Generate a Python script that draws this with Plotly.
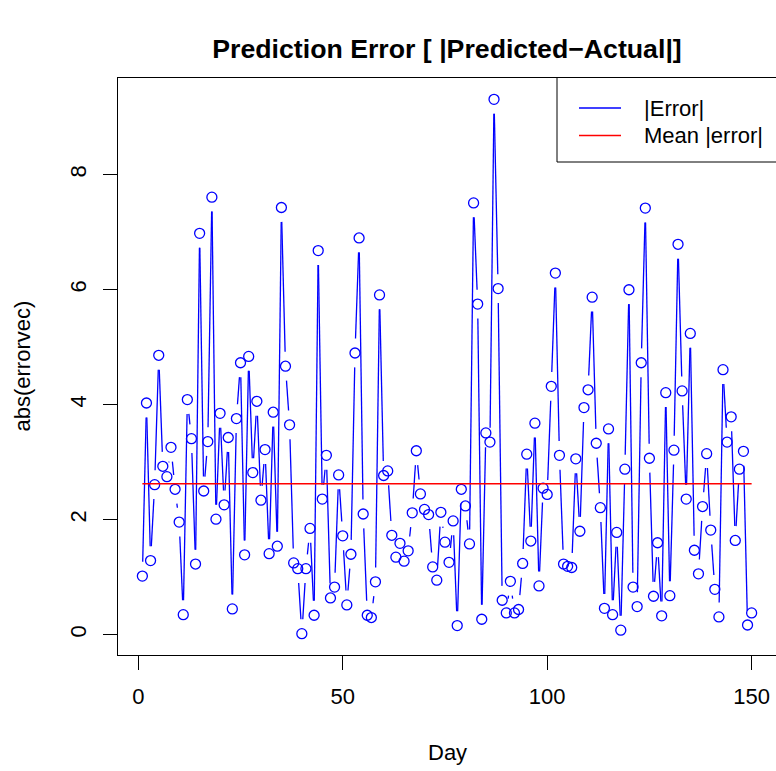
import math
import numpy as np
import plotly.graph_objects as go

# ---------------- data ----------------
days = list(range(1, 151))
abs_error = [
    1.02, 4.03, 1.29, 2.61, 4.86, 2.93, 2.75, 3.26, 2.53, 1.96,
    0.35, 4.09, 3.41, 1.23, 6.98, 2.50, 3.36, 7.61, 2.01, 3.85,
    2.26, 3.43, 0.45, 3.76, 4.73, 1.39, 4.84, 2.82, 4.06, 2.34,
    3.22, 1.41, 3.87, 1.54, 7.43, 4.67, 3.65, 1.25, 1.15, 0.02,
    1.15, 1.85, 0.34, 6.68, 2.36, 3.12, 0.64, 0.83, 2.78, 1.72,
    0.52, 1.40, 4.90, 6.90, 2.10, 0.34, 0.30, 0.92, 5.91, 2.77,
    2.85, 1.73, 1.35, 1.59, 1.28, 1.46, 2.12, 3.20, 2.45, 2.18,
    2.09, 1.18, 0.95, 2.13, 1.61, 1.26, 1.98, 0.16, 2.53, 2.24,
    1.58, 7.51, 5.75, 0.27, 3.51, 3.35, 9.31, 6.02, 0.60, 0.38,
    0.93, 0.38, 0.44, 1.24, 3.14, 1.63, 3.68, 0.85, 2.55, 2.44,
    4.32, 6.29, 3.12, 1.23, 1.19, 1.17, 3.06, 1.80, 3.95, 4.26,
    5.87, 3.33, 2.21, 0.46, 3.58, 0.35, 1.78, 0.08, 2.88, 6.00,
    0.83, 0.49, 4.73, 7.42, 3.07, 0.67, 1.60, 0.33, 4.21, 0.68,
    3.21, 6.79, 4.24, 2.36, 5.24, 1.47, 1.06, 2.23, 3.15, 1.82,
    0.79, 0.31, 4.61, 3.35, 3.79, 1.64, 2.88, 3.19, 0.17, 0.38,
]
mean_error = float(np.mean(abs_error))

x_ticks = [0, 50, 100, 150]
y_ticks = [0, 2, 4, 6, 8]

title_text = "Prediction Error [ |Predicted\u2212Actual|]"
x_title = "Day"
y_title = "abs(errorvec)"
legend_labels = ["|Error|", "Mean |error|"]

# ---------------- layout constants ----------------
W, H = 776, 771
ML, MR, MT = 118, 0, 78
PH = 577
MB = H - MT - PH
PW = W - ML - MR
FONT = "Liberation Sans, Arial, Helvetica, sans-serif"
BLUE, RED = "#0000FF", "#FF0000"


def r_range(v):
    lo, hi = min(v), max(v)
    e = 0.04 * (hi - lo)
    return [lo - e, hi + e]


xr = r_range(days)
yr = r_range(abs_error)

# type="b" style: line segments with gaps around each point
kx = PW / (xr[1] - xr[0])
ky = PH / (yr[1] - yr[0])
GAP = 14.4
seg_x, seg_y = [], []
for i in range(1, len(days)):
    x0, y0, x1, y1 = days[i - 1], abs_error[i - 1], days[i], abs_error[i]
    L = math.hypot((x1 - x0) * kx, (y1 - y0) * ky)
    f = GAP / L
    if f < 0.5:
        seg_x += [x0 + f * (x1 - x0), x1 - f * (x1 - x0), None]
        seg_y += [y0 + f * (y1 - y0), y1 - f * (y1 - y0), None]

fig = go.Figure()
fig.add_trace(go.Scatter(x=seg_x, y=seg_y, mode="lines",
                         line=dict(color=BLUE, width=1.3),
                         name=legend_labels[0], showlegend=False,
                         hoverinfo="skip"))
fig.add_trace(go.Scatter(x=days, y=abs_error, mode="markers",
                         marker=dict(symbol="circle-open", size=10, color=BLUE,
                                     line=dict(color=BLUE, width=1.3)),
                         showlegend=False))
fig.add_trace(go.Scatter(x=days, y=[mean_error] * len(days), mode="lines",
                         line=dict(color=RED, width=1.3),
                         name=legend_labels[1], showlegend=False))

axis_common = dict(showline=True, linecolor="black", linewidth=1,
                   ticks="outside", ticklen=14, tickwidth=1, tickcolor="black",
                   showgrid=False, zeroline=False, ticklabeloverflow="allow",
                   tickfont=dict(family=FONT, size=22, color="black"))

fig.update_xaxes(range=xr, tickvals=x_ticks, ticktext=[str(t) for t in x_ticks],
                 ticklabelstandoff=8, mirror=True, **axis_common)
fig.update_yaxes(range=yr, tickvals=y_ticks, ticktext=[str(t) for t in y_ticks],
                 tickangle=-90, ticklabelstandoff=8, mirror=False, **axis_common)


def fx(px):   # window pixel x -> x-domain fraction
    return (px - ML) / PW


def fy(py):   # window pixel y -> y-domain fraction
    return 1 - (py - MT) / PH


# legend box (top-right, R style; its right side lies on the window edge)
fig.add_shape(type="rect", xref="x domain", yref="y domain",
              x0=fx(557), x1=1.0, y0=fy(162), y1=1.0,
              line=dict(width=0), fillcolor="white", layer="above")
fig.add_shape(type="line", xref="x domain", yref="y domain",
              x0=fx(557), x1=fx(557), y0=fy(162), y1=1.0,
              line=dict(color="black", width=1), layer="above")
fig.add_shape(type="line", xref="x domain", yref="y domain",
              x0=fx(557), x1=1.0, y0=fy(162), y1=fy(162),
              line=dict(color="black", width=1), layer="above")
for j, (lab, col) in enumerate(zip(legend_labels, [BLUE, RED])):
    yy = fy(108 + 27.5 * j)
    fig.add_shape(type="line", xref="x domain", yref="y domain",
                  x0=fx(579), x1=fx(621), y0=yy, y1=yy,
                  line=dict(color=col, width=1.3), layer="above")
    fig.add_annotation(xref="x domain", yref="y domain", x=fx(642), y=yy,
                       text=lab, showarrow=False, xanchor="left", yanchor="middle",
                       font=dict(family=FONT, size=22, color="black"))

# axis titles
fig.add_annotation(xref="paper", yref="paper", x=0.5, y=0, yshift=-97,
                   text=x_title, showarrow=False, xanchor="center", yanchor="middle",
                   font=dict(family=FONT, size=22, color="black"))
fig.add_annotation(xref="paper", yref="paper", x=0, y=0.5, xshift=-96,
                   text=y_title, showarrow=False, textangle=-90,
                   xanchor="center", yanchor="middle",
                   font=dict(family=FONT, size=22, color="black"))

fig.update_layout(
    width=W, height=H,
    margin=dict(l=ML, r=MR, t=MT, b=MB, autoexpand=False),
    paper_bgcolor="white", plot_bgcolor="white",
    showlegend=False,
    title=dict(text=title_text, x=0.5, xref="paper", xanchor="center",
               y=1 - 49 / H, yref="container", yanchor="middle",
               font=dict(family=FONT, size=26.7, color="black", weight="bold")),
)

fig.write_html("out.html",
               config={"displayModeBar": False},
               post_script="document.body.style.margin='0';"
                           "document.body.style.overflow='hidden';")
